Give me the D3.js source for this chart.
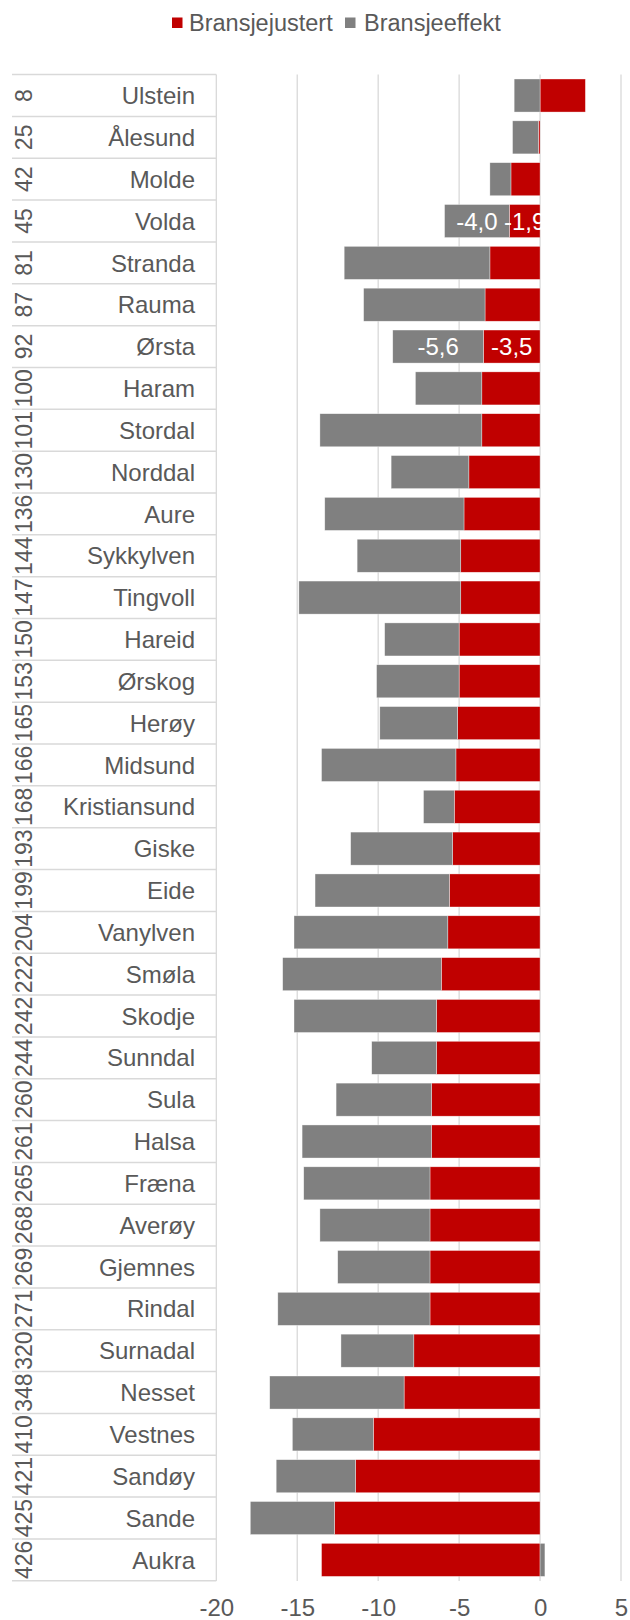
<!DOCTYPE html>
<html>
<head>
<meta charset="utf-8">
<script src="https://cdn.jsdelivr.net/npm/d3@7"></script>
<style>
  body { margin: 0; background: #fff; }
  text { font-family: "Liberation Sans", Arial, sans-serif; }
</style>
</head>
<body>
<div id="chart"></div>
<script>
// ranking and municipality names, top to bottom
const ranks = [8, 25, 42, 45, 81, 87, 92, 100, 101, 130, 136, 144, 147, 150, 153, 165, 166, 168,
  193, 199, 204, 222, 242, 244, 260, 261, 265, 268, 269, 271, 320, 348, 410, 421, 425, 426];
const names = ["Ulstein", "Ålesund", "Molde", "Volda", "Stranda", "Rauma", "Ørsta", "Haram",
  "Stordal", "Norddal", "Aure", "Sykkylven", "Tingvoll", "Hareid", "Ørskog", "Herøy", "Midsund",
  "Kristiansund", "Giske", "Eide", "Vanylven", "Smøla", "Skodje", "Sunndal", "Sula", "Halsa",
  "Fræna", "Averøy", "Gjemnes", "Rindal", "Surnadal", "Nesset", "Vestnes", "Sandøy", "Sande", "Aukra"];

// series values
const bransjejustert = [2.8, -0.1, -1.8, -1.9, -3.1, -3.4, -3.5, -3.6, -3.6, -4.4, -4.7, -4.9,
  -4.9, -5.0, -5.0, -5.1, -5.2, -5.3, -5.4, -5.6, -5.7, -6.1, -6.4, -6.4, -6.7, -6.7, -6.8,
  -6.8, -6.8, -6.8, -7.8, -8.4, -10.3, -11.4, -12.7, -13.5];
const bransjeeffekt = [-1.6, -1.6, -1.3, -4.0, -9.0, -7.5, -5.6, -4.1, -10.0, -4.8, -8.6, -6.4,
  -10.0, -4.6, -5.1, -4.8, -8.3, -1.9, -6.3, -8.3, -9.5, -9.8, -8.8, -4.0, -5.9, -8.0, -7.8,
  -6.8, -5.7, -9.4, -4.5, -8.3, -5.0, -4.9, -5.2, 0.3];

const xTicks = [-20, -15, -10, -5, 0, 5];
const labelledRows = ["Volda", "Ørsta"];

const seriesNames = ["Bransjejustert", "Bransjeeffekt"];
const colors = ["#C00000", "#808080"];

const width = 630, height = 1620;
const textColor = "#595959";
const gridColor = "#d9d9d9";
const fontSize = "24px";

const svg = d3.select("#chart").append("svg")
  .attr("width", width)
  .attr("height", height);

const x = d3.scaleLinear().domain([-20, 5]).range([216.3, 621]);
const y = d3.scaleBand().domain(names).range([74.6, 1580.8])
  .paddingInner(0.21).paddingOuter(0.105);

// norwegian number format, plain hyphen as minus
const locale = d3.formatLocale({ decimal: ",", thousands: " ", grouping: [3], currency: ["", " kr"], minus: "-" });
const fmt = locale.format(".1f");

// gridlines
svg.append("g")
  .selectAll("line")
  .data(xTicks)
  .join("line")
  .attr("x1", d => x(d)).attr("x2", d => x(d))
  .attr("y1", 74.6).attr("y2", 1581)
  .attr("stroke", gridColor)
  .attr("stroke-width", 1.3);

// category table lines
const step = y.step();
const boundaries = d3.range(names.length + 1).map(i => 74.6 + i * step);
svg.append("g")
  .selectAll("line")
  .data(boundaries)
  .join("line")
  .attr("x1", 12).attr("x2", x(-20))
  .attr("y1", d => d).attr("y2", d => d)
  .attr("stroke", gridColor)
  .attr("stroke-width", 1.5);

// stacked bars
const rows = names.map((n, i) => ({ name: n, Bransjejustert: bransjejustert[i], Bransjeeffekt: bransjeeffekt[i] }));
const stack = d3.stack().keys(seriesNames).offset(d3.stackOffsetDiverging);
const stacked = stack(rows);

svg.append("g")
  .selectAll("g")
  .data(stacked)
  .join("g")
  .attr("fill", (d, i) => colors[i])
  .selectAll("rect")
  .data(d => d)
  .join("rect")
  .attr("x", d => x(Math.min(d[0], d[1])))
  .attr("width", d => Math.abs(x(d[1]) - x(d[0])))
  .attr("y", d => y(d.data.name))
  .attr("height", y.bandwidth())
  .attr("stroke", "rgba(255,255,255,0.6)")
  .attr("stroke-width", 0.6);

// data labels
svg.append("g")
  .selectAll("g")
  .data(stacked)
  .join("g")
  .selectAll("text")
  .data(d => d.filter(p => labelledRows.includes(p.data.name)).map(p => ({ p, key: d.key })))
  .join("text")
  .attr("x", d => x((d.p[0] + d.p[1]) / 2))
  .attr("y", d => y(d.p.data.name) + y.bandwidth() / 2)
  .attr("dy", "0.36em")
  .attr("text-anchor", "middle")
  .attr("fill", "#fff")
  .style("font-size", fontSize)
  .text(d => fmt(d.p.data[d.key]));

// names and ranks
const labels = svg.append("g");
labels.selectAll("text.name")
  .data(names)
  .join("text")
  .attr("class", "name")
  .attr("x", 195)
  .attr("y", d => y(d) + y.bandwidth() / 2)
  .attr("dy", "0.36em")
  .attr("text-anchor", "end")
  .attr("fill", textColor)
  .style("font-size", fontSize)
  .text(d => d);

labels.selectAll("text.rank")
  .data(ranks)
  .join("text")
  .attr("class", "rank")
  .attr("transform", (d, i) => `translate(24,${y(names[i]) + y.bandwidth() / 2}) rotate(-90)`)
  .attr("dy", "0.36em")
  .attr("text-anchor", "middle")
  .attr("fill", textColor)
  .style("font-size", "23px")
  .text(d => d);

// x axis
const xAxis = svg.append("g")
  .attr("transform", "translate(0,1581)")
  .call(d3.axisBottom(x).tickValues(xTicks).tickSize(0).tickPadding(18).tickFormat(locale.format("d")));
xAxis.select(".domain").remove();
xAxis.selectAll("text")
  .attr("fill", textColor)
  .style("font-size", fontSize)
  .style("font-family", "'Liberation Sans', Arial, sans-serif");

// legend
const legend = svg.append("g");
const legendX = [172, 345];
const textX = [189, 364];
seriesNames.forEach((s, i) => {
  legend.append("rect")
    .attr("x", legendX[i]).attr("y", 17.5)
    .attr("width", 10.5).attr("height", 10.5)
    .attr("fill", colors[i]);
  legend.append("text")
    .attr("x", textX[i]).attr("y", 22.7)
    .attr("dy", "0.36em")
    .attr("fill", textColor)
    .style("font-size", "23.5px")
    .text(s);
});
</script>
</body>
</html>
